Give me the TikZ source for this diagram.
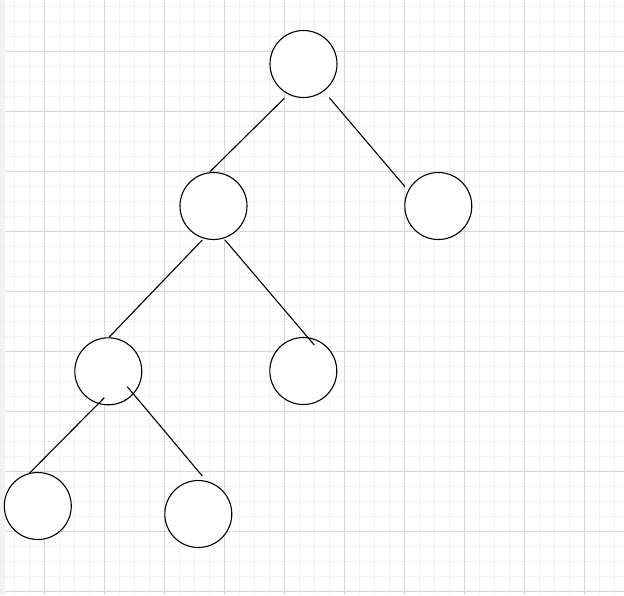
\documentclass[tikz,border=0pt]{standalone}
\usepackage{tikz}

\tikzset{
  vertex/.style={draw=black, line width=1.1pt, circle, fill=white, inner sep=0pt, minimum size=67pt},
  minorline/.style={draw=black!5, line width=0.9pt},
  majorline/.style={draw=black!16, line width=0.9pt},
}

\begin{document}
\begin{tikzpicture}[x=1pt, y=-1pt, line width=1.1pt]
	\useasboundingbox (0,0) rectangle (624,595);
	% Grid
	\fill[white] (0,0) rectangle (624,595);
	\fill[black!5] (0,0) rectangle (4.5,595);
	\foreach \gx in {14,29,...,614} \draw[minorline] (\gx,0) -- (\gx,595);
	\foreach \gy in {6,21,...,591} \draw[minorline] (4.5,\gy) -- (624,\gy);
	\foreach \gx in {44,104,...,584} \draw[majorline] (\gx,0) -- (\gx,595);
	\foreach \gy in {51,111,...,591} \draw[majorline] (4.5,\gy) -- (624,\gy);
	% Nodes
	\node[vertex] (root) at (303.5,64) {};
	\node[vertex] (l) at (213.5,206) {};
	\node[vertex] (r) at (438.3,206) {};
	\node[vertex] (ll) at (108.3,371.3) {};
	\node[vertex] (lr) at (303.3,371) {};
	\node[vertex] (lll) at (37.8,506) {};
	\node[vertex] (llr) at (198.3,514) {};
	% Edges
	\draw ([shift={(-19.2,34.3)}]root.center) -- ([shift={(-3.5,-34.3)}]l.center);
	\draw ([shift={(25.8,33.7)}]root.center) -- ([shift={(-33.3,-19.3)}]r.center);
	\draw ([shift={(-11.2,34)}]l.center) -- ([shift={(0.7,-34)}]ll.center);
	\draw ([shift={(11.5,34)}]l.center) -- ([shift={(11,-26)}]lr.center);
	\draw ([shift={(-4,26.4)}]ll.center) -- ([shift={(-8.5,-32.7)}]lll.center);
	\draw ([shift={(19,15.4)}]ll.center) -- ([shift={(4,-38)}]llr.center);
\end{tikzpicture}
\end{document}
